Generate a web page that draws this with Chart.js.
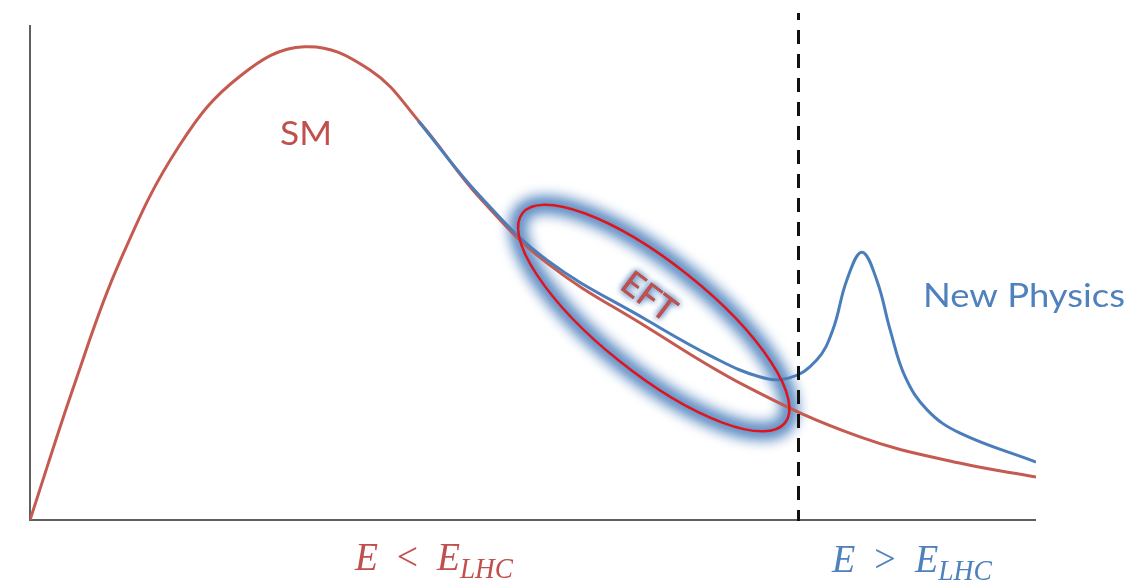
<!DOCTYPE html>
<html>
<head>
<meta charset="utf-8">
<script src="https://cdn.jsdelivr.net/npm/chart.js@4.4.1/dist/chart.umd.min.js"></script>
<style>
  html, body { margin: 0; padding: 0; background: #ffffff; }
  canvas { display: block; }
</style>
</head>
<body>
<canvas id="spectrum" width="1130" height="582"></canvas>
<script>
// Energy axis (arbitrary units, 0..10) and event rate (arbitrary units, 0..100)
const smEnergy = [0, 0.45, 0.89, 1.49, 2.09, 2.73, 3.38, 3.88, 4.47, 5.14, 6.13, 7.13, 8.25, 9.24, 10.0];
const smRate   = [0, 27.9, 52.1, 75.8, 89.7, 95.6, 90.9, 80.2, 65.1, 51.9, 39.0, 26.9, 16.8, 11.5, 8.7];

const npEnergy = [3.86, 4.47, 5.14, 6.13, 6.79, 7.26, 7.55, 7.82, 7.98, 8.12, 8.27, 8.42, 8.55, 8.70, 8.92, 9.24, 10.0];
const npRate   = [80.6, 65.5, 52.5, 40.4, 32.9, 28.9, 28.7, 32.3, 38.4, 48.5, 54.1, 48.3, 38.4, 28.9, 22.2, 17.6, 11.7];

// Reach of the collider on the energy axis
const lhcLimit = 7.63;

// Centre of the EFT region (energy, rate)
const eftCentre = [6.20, 40.8];

const RED = '#C55A51';
const BLUE = '#4A7EBB';
const TEXT_RED = '#C0504D';
const TEXT_BLUE = '#4F81BD';

const toPoints = (xs, ys) => xs.map((v, i) => ({ x: v, y: ys[i] }));

// Draws text stretched horizontally to a given width
function fitText(ctx, text, x, y, width) {
  const w = ctx.measureText(text).width;
  ctx.save();
  ctx.translate(x, y);
  ctx.scale(width / w, 1);
  ctx.textAlign = 'left';
  ctx.fillText(text, 0, 0);
  ctx.restore();
}

function mathLabel(ctx, left, base, rel, color, width) {
  const it = 'italic 40px "Liberation Serif"';
  const up = '40px "Liberation Serif"';
  const sub = 'italic 29px "Liberation Serif"';
  const parts = [
    { t: 'E', f: it, dy: 0 },
    { t: '  ' + rel + '  ', f: up, dy: 0 },
    { t: 'E', f: it, dy: 0 },
    { t: 'LHC', f: sub, dy: 8 }
  ];
  let total = 0;
  parts.forEach(p => { ctx.font = p.f; p.w = ctx.measureText(p.t).width; total += p.w; });
  const k = width / total;
  ctx.save();
  ctx.translate(left, base);
  ctx.scale(k, 1);
  ctx.fillStyle = color;
  ctx.textBaseline = 'alphabetic';
  ctx.textAlign = 'left';
  let x = 0;
  parts.forEach(p => { ctx.font = p.f; ctx.fillText(p.t, x, p.dy); x += p.w; });
  ctx.restore();
}

function ellipsePath(ctx, cx, cy) {
  ctx.beginPath();
  ctx.ellipse(cx, cy, 168, 55, 38.6 * Math.PI / 180, 0, Math.PI * 2);
}

const decorations = {
  id: 'decorations',
  beforeDatasetsDraw(chart) {
    const { ctx, chartArea: a, scales: { x, y } } = chart;
    ctx.save();
    // axes
    ctx.strokeStyle = '#5f5f5f';
    ctx.lineWidth = 2;
    ctx.beginPath();
    ctx.moveTo(a.left, a.top);
    ctx.lineTo(a.left, a.bottom);
    ctx.lineTo(a.right, a.bottom);
    ctx.stroke();
    // soft halo around the EFT region
    const cx = x.getPixelForValue(eftCentre[0]);
    const cy = y.getPixelForValue(eftCentre[1]);
    ctx.filter = 'blur(6px)';
    ctx.strokeStyle = 'rgba(79,129,189,0.75)';
    ctx.lineWidth = 21;
    ellipsePath(ctx, cx, cy);
    ctx.stroke();
    ctx.filter = 'blur(3px)';
    ctx.strokeStyle = 'rgba(79,129,189,0.4)';
    ctx.lineWidth = 10;
    ellipsePath(ctx, cx, cy);
    ctx.stroke();
    ctx.restore();
  },
  afterDatasetsDraw(chart) {
    const { ctx, chartArea: a, scales: { x, y } } = chart;
    const cx = x.getPixelForValue(eftCentre[0]);
    const cy = y.getPixelForValue(eftCentre[1]);
    ctx.save();
    // EFT region outline
    ctx.strokeStyle = '#E0141C';
    ctx.lineWidth = 2.5;
    ellipsePath(ctx, cx, cy);
    ctx.stroke();

    // collider energy limit
    const lx = Math.round(x.getPixelForValue(lhcLimit)) + 0.5;
    ctx.strokeStyle = '#111111';
    ctx.lineWidth = 3;
    ctx.setLineDash([14, 10]);
    ctx.lineDashOffset = 7;
    ctx.beginPath();
    ctx.moveTo(lx, 13);
    ctx.lineTo(lx, a.bottom + 1);
    ctx.stroke();
    ctx.setLineDash([]);

    // labels
    ctx.textBaseline = 'alphabetic';
    ctx.fillStyle = TEXT_RED;
    ctx.font = '32px Lato';
    fitText(ctx, 'SM', 280, 145, 52);

    ctx.fillStyle = TEXT_BLUE;
    ctx.font = '32px Lato';
    fitText(ctx, 'New Physics', 923, 307, 202);

    // EFT label with a blue glow
    ctx.save();
    ctx.translate(cx - 5, cy - 21);
    ctx.rotate(37 * Math.PI / 180);
    ctx.font = '34px Lato';
    ctx.textAlign = 'center';
    ctx.textBaseline = 'middle';
    ctx.shadowColor = 'rgba(79,129,189,1)';
    ctx.shadowBlur = 6;
    ctx.fillStyle = TEXT_RED;
    ctx.fillText('EFT', 0, 0);
    ctx.fillText('EFT', 0, 0);
    ctx.shadowBlur = 0;
    ctx.fillStyle = 'rgba(192,80,77,0.85)';
    ctx.fillText('EFT', 0, 0);
    ctx.restore();

    mathLabel(ctx, 355, 570, '<', TEXT_RED, 158);
    mathLabel(ctx, 832, 572, '>', TEXT_BLUE, 160);
    ctx.restore();
  }
};

new Chart(document.getElementById('spectrum'), {
  type: 'line',
  data: {
    datasets: [
      {
        label: 'New Physics',
        data: toPoints(npEnergy, npRate),
        borderColor: BLUE,
        borderWidth: 3,
        pointRadius: 0,
        tension: 0.4,
        fill: false
      },
      {
        label: 'SM',
        data: toPoints(smEnergy, smRate),
        borderColor: RED,
        borderWidth: 3,
        pointRadius: 0,
        tension: 0.4,
        fill: false
      }
    ]
  },
  options: {
    responsive: false,
    animation: false,
    layout: { padding: { left: 30, right: 94, top: 25, bottom: 62 } },
    scales: {
      x: { type: 'linear', min: 0, max: 10, display: false },
      y: { type: 'linear', min: 0, max: 100, display: false }
    },
    plugins: {
      legend: { display: false },
      tooltip: { enabled: false }
    },
    events: []
  },
  plugins: [decorations]
});
</script>
</body>
</html>
